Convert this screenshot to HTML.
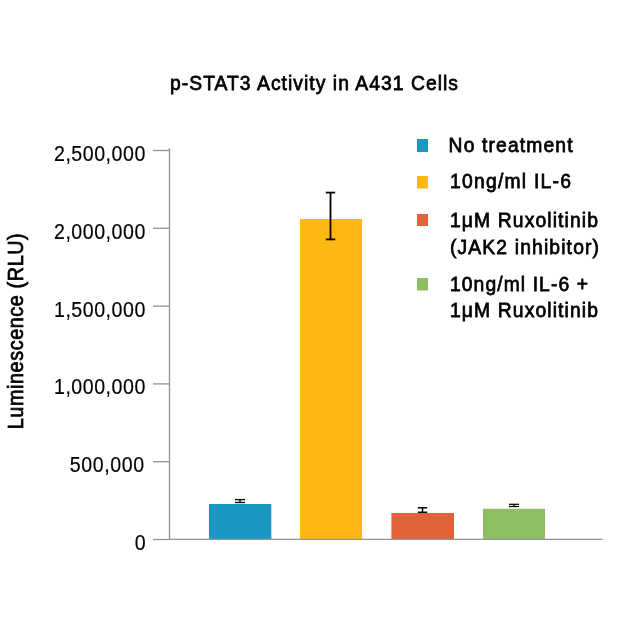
<!DOCTYPE html>
<html><head><meta charset="utf-8">
<style>
html,body{margin:0;padding:0;background:#fff;}
body{width:640px;height:630px;overflow:hidden;}
svg{display:block;will-change:transform;}
text{font-family:"Liberation Sans",sans-serif;fill:#000;}
.t{font-size:21px;font-weight:400;stroke:#000;stroke-width:0.75px;}
.n{font-size:22.8px;font-weight:400;stroke:#000;stroke-width:0.2px;}
</style></head><body>
<svg width="640" height="630" viewBox="0 0 640 630">
<rect width="640" height="630" fill="#fff"/>
<!-- title -->
<g transform="translate(170.0,89.5) scale(0.92,1)"><text class="t" x="0" y="0" textLength="313.04" lengthAdjust="spacing">p-STAT3 Activity in A431 Cells</text></g>
<!-- y label -->
<g transform="translate(23.3,429.3) rotate(-90) scale(0.92,1)"><text class="t" style="font-size:21.5px" x="0" y="0" textLength="213.04" lengthAdjust="spacing">Luminescence (RLU)</text></g>
<!-- axes -->
<g stroke="#929292" stroke-width="1.3" fill="none">
<line x1="169.5" y1="148.3" x2="169.5" y2="540"/>
<line x1="153" y1="150.5" x2="169.5" y2="150.5"/>
<line x1="153" y1="228.3" x2="169.5" y2="228.3"/>
<line x1="153" y1="306.1" x2="169.5" y2="306.1"/>
<line x1="153" y1="383.9" x2="169.5" y2="383.9"/>
<line x1="153" y1="461.7" x2="169.5" y2="461.7"/>
<line x1="153" y1="539.5" x2="169.5" y2="539.5"/>
</g>
<!-- tick labels -->
<g text-anchor="end">
<g transform="translate(145.3,161.0) scale(0.86,1)"><text class="n" x="0" y="0" textLength="106.16" lengthAdjust="spacing">2,500,000</text></g>
<g transform="translate(145.3,238.8) scale(0.86,1)"><text class="n" x="0" y="0" textLength="106.16" lengthAdjust="spacing">2,000,000</text></g>
<g transform="translate(145.3,316.6) scale(0.86,1)"><text class="n" x="0" y="0" textLength="106.16" lengthAdjust="spacing">1,500,000</text></g>
<g transform="translate(145.3,394.4) scale(0.86,1)"><text class="n" x="0" y="0" textLength="106.16" lengthAdjust="spacing">1,000,000</text></g>
<g transform="translate(144.1,472.2) scale(0.86,1)"><text class="n" x="0" y="0" textLength="86.51" lengthAdjust="spacing">500,000</text></g>
<g transform="translate(145.6,550.0) scale(0.86,1)"><text class="n" x="0" y="0" textLength="13.25" lengthAdjust="spacing">0</text></g>
</g>
<!-- bars -->
<rect x="209" y="504" width="62.3" height="35.5" fill="#1b97c3"/>
<rect x="300" y="219" width="62" height="320.5" fill="#fdb814"/>
<rect x="391.4" y="513" width="62.6" height="26.5" fill="#e0643a"/>
<rect x="483" y="508.8" width="62" height="30.7" fill="#8bbf62"/>
<line x1="169" y1="539.4" x2="602.7" y2="539.4" stroke="#959595" stroke-width="1.25"/>
<!-- error bars -->
<g stroke="#000" fill="none">
<g stroke-width="1.3">
<line x1="240" y1="499.6" x2="240" y2="502.5"/>
<line x1="235" y1="499.6" x2="245" y2="499.6"/>
<line x1="235" y1="502.5" x2="245" y2="502.5"/>
</g>
<g stroke-width="1.8">
<line x1="330.5" y1="192.6" x2="330.5" y2="239.4"/>
<line x1="325.8" y1="192.6" x2="335.2" y2="192.6"/>
<line x1="325.8" y1="239.4" x2="335.2" y2="239.4"/>
</g>
<g stroke-width="1.5">
<line x1="422.5" y1="507.8" x2="422.5" y2="512.3"/>
<line x1="417.8" y1="507.8" x2="427.2" y2="507.8"/>
<line x1="417.8" y1="512.3" x2="427.2" y2="512.3"/>
</g>
<g stroke-width="1.25">
<line x1="514" y1="504.3" x2="514" y2="506.5"/>
<line x1="509" y1="504.3" x2="519" y2="504.3"/>
<line x1="509" y1="506.5" x2="519" y2="506.5"/>
</g>
</g>
<!-- legend -->
<rect x="417" y="139" width="11" height="13" fill="#1b97c3"/>
<rect x="417" y="176" width="11" height="12.5" fill="#fdb814"/>
<rect x="417" y="214" width="11" height="12" fill="#e0643a"/>
<rect x="417" y="278" width="11" height="12.5" fill="#8bbf62"/>
<g transform="translate(448.6,151.6) scale(0.92,1)"><text class="t" x="0" y="0" textLength="134.78" lengthAdjust="spacing">No treatment</text></g>
<g transform="translate(450.0,187.6) scale(0.92,1)"><text class="t" x="0" y="0" textLength="131.52" lengthAdjust="spacing">10ng/ml IL-6</text></g>
<g transform="translate(450.0,226.6) scale(0.92,1)"><text class="t" x="0" y="0" textLength="160.87" lengthAdjust="spacing">1μM Ruxolitinib</text></g>
<g transform="translate(450.0,254.0) scale(0.92,1)"><text class="t" x="0" y="0" textLength="161.96" lengthAdjust="spacing">(JAK2 inhibitor)</text></g>
<g transform="translate(450.0,291.0) scale(0.92,1)"><text class="t" x="0" y="0" textLength="150.00" lengthAdjust="spacing">10ng/ml IL-6 +</text></g>
<g transform="translate(450.0,316.8) scale(0.92,1)"><text class="t" x="0" y="0" textLength="160.87" lengthAdjust="spacing">1μM Ruxolitinib</text></g>
</svg>
</body></html>
